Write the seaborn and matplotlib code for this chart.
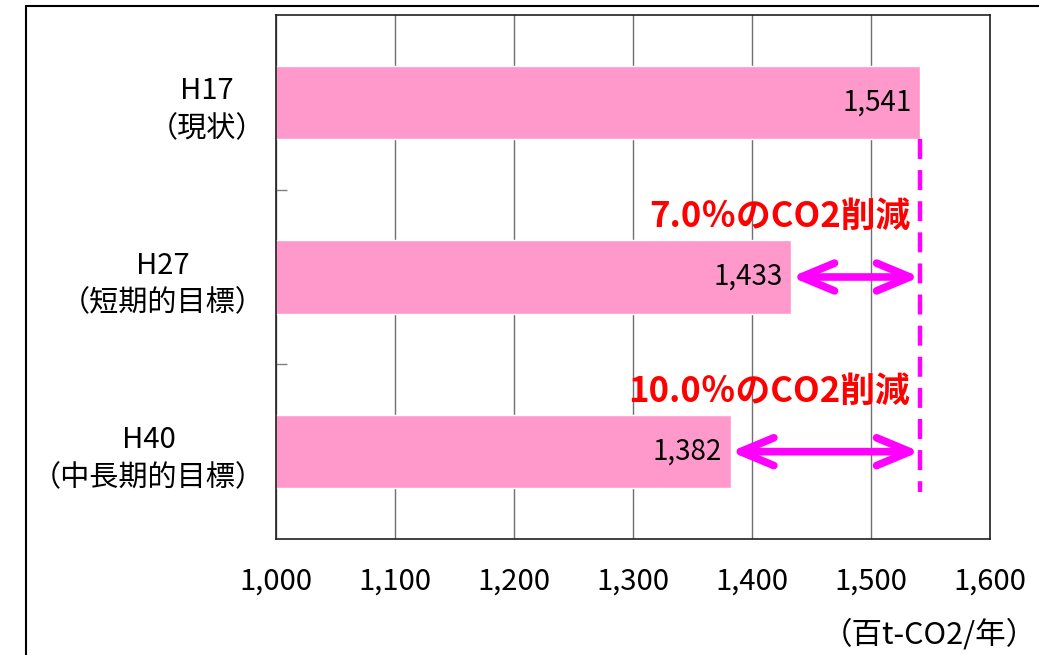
import matplotlib
matplotlib.use("Agg")
import matplotlib.pyplot as plt
import seaborn as sns
import pandas as pd
from matplotlib.lines import Line2D

categories = ["H17\n（現状）", "H27\n（短期的目標）", "H40\n（中長期的目標）"]
values = [1541, 1433, 1382]
value_labels = ["1,541", "1,433", "1,382"]
reduction_labels = ["7.0％のCO2削減", "10.0％のCO2削減"]
xticks = [1000, 1100, 1200, 1300, 1400, 1500, 1600]
xtick_labels = ["1,000", "1,100", "1,200", "1,300", "1,400", "1,500", "1,600"]
unit_label = "（百t-CO2/年）"

sns.set_theme(style="white")
plt.rcParams["font.family"] = ["Noto Sans CJK JP", "DejaVu Sans"]
plt.rcParams["text.color"] = "black"
plt.rcParams["xtick.labelcolor"] = "black"
plt.rcParams["ytick.labelcolor"] = "black"

df = pd.DataFrame({"cat": categories, "val": values})

fig = plt.figure(figsize=(10.39, 6.55), dpi=100)
ax = fig.add_axes([276/1039, 1-539/655, (990-276)/1039, (539-15)/655])

sns.barplot(data=df, x="val", y="cat", orient="h", color="#FF99CC",
            saturation=1, width=0.42, ax=ax, zorder=2)

ax.set_xlim(1000, 1600)
ax.set_ylim(2.5, -0.5)
ax.set_xticks(xticks)
ax.set_xticklabels(xtick_labels, fontsize=21, color="black")
ax.tick_params(axis="x", length=0, pad=20, labelcolor="black")
ax.tick_params(axis="y", which="major", length=0, pad=8, labelsize=21, labelcolor="black")
for t in ax.get_yticklabels():
    t.set_multialignment("center")
    t.set_linespacing(1.35)
ax.set_yticks([0.5, 1.5], minor=True)
ax.tick_params(axis="y", which="minor", direction="in", length=8, width=1, color="#808080", left=True)
ax.set_xlabel("")
ax.set_ylabel("")
ax.grid(axis="x", color="#707070", linewidth=1.0, zorder=0)
ax.set_axisbelow(True)
for s in ax.spines.values():
    s.set_color("#202020")
    s.set_linewidth(1.2)
    s.set_visible(True)

# value labels
for i, (v, lab) in enumerate(zip(values, value_labels)):
    ax.annotate(lab, xy=(v, i), xytext=(-6, 0), textcoords="offset points",
                ha="right", va="center", fontsize=20, color="black", zorder=5)

# dashed reference line
ax.plot([values[0], values[0]], [0.21, 2.23], color="#FF00FF", lw=3.2,
        linestyle=(0, (4.5, 2.5)), zorder=4, solid_capstyle="butt")

# arrows
for i in (1, 2):
    ax.annotate("", xy=(values[i], i), xytext=(values[0], i),
                arrowprops=dict(arrowstyle="<->,head_length=1.2,head_width=0.5",
                                mutation_scale=20,
                                color="#FF00FF", lw=5.5, capstyle="round",
                                joinstyle="round", shrinkA=0, shrinkB=0),
                zorder=6)

# reduction labels
for i, lab in zip((1, 2), reduction_labels):
    ax.text(1533, i - 0.345, lab, ha="right", va="center", fontsize=25,
            fontweight="bold", color="#FF0000", zorder=6)

fig.text(0.998, 1-635/655, unit_label, ha="right", va="center", fontsize=22, color="black")

# outer frame
fig.add_artist(Line2D([26/1039, 26/1039], [0, 1-6/655], color="black", lw=1.5,
                      transform=fig.transFigure))
fig.add_artist(Line2D([26/1039, 1], [1-6/655, 1-6/655], color="black", lw=1.5,
                      transform=fig.transFigure))

fig.savefig("out.png", dpi=100)
